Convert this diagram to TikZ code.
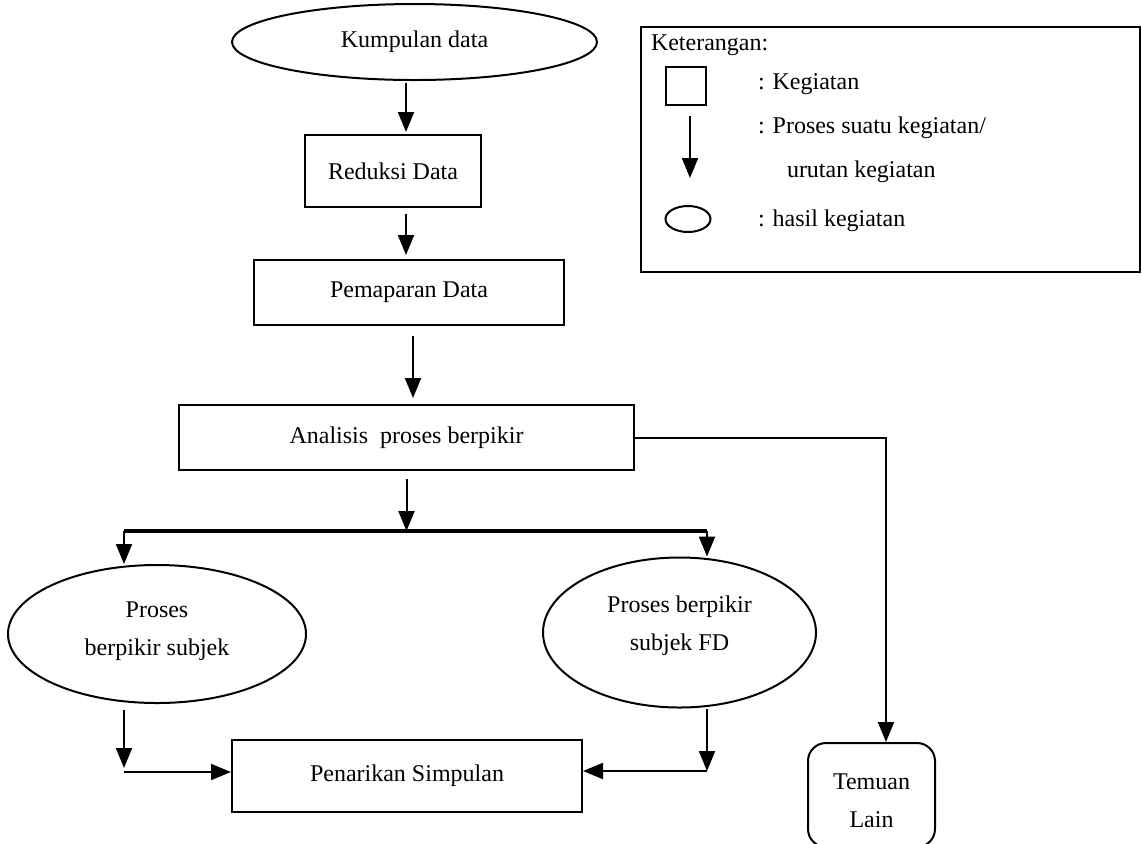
\documentclass[tikz,border=0pt]{standalone}
\usepackage{fontspec}
\setmainfont{Liberation Serif}
\usetikzlibrary{arrows.meta,shapes.geometric}

\begin{document}
\begin{tikzpicture}[x=0.5pt,y=-0.5pt,line width=1pt,
    >={Triangle[width=8pt,length=10pt]}]

        \useasboundingbox (0,0) rectangle (1142,843);

        \begin{scope}[every node/.style={draw,align=center,
            font=\fontsize{12}{19}\selectfont}]
          \node[ellipse,minimum width=182.5pt,minimum height=38pt] (kumpul) at (414.5,42) {Kumpulan data};
          \node[minimum width=88pt,minimum height=36pt] (reduksi) at (393,171) {Reduksi Data};
          \node[minimum width=155pt,minimum height=32.5pt] (paparan) at (409,292.5) {Pemaparan Data};
          \node[minimum width=227.5pt,minimum height=32.5pt] (analisis) at (406.5,437.5) {Analisis\ \ proses berpikir};
          \node[ellipse,minimum width=149pt,minimum height=69pt,text depth=5.5pt] (fi) at (157,634) {Proses\\berpikir subjek};
          \node[ellipse,minimum width=136.5pt,minimum height=75pt,text depth=9pt] (fd) at (679.5,632.5) {Proses berpikir\\subjek FD};
          \node[minimum width=175pt,minimum height=36pt] (simpul) at (407,776) {Penarikan Simpulan};
          \node[rounded corners=9pt,minimum width=63.5pt,minimum height=52pt] (temuan) at (871.5,795) {};
        \end{scope}
        \node[align=center,font=\fontsize{12}{19}\selectfont] (temuanTeks) at (871.5,801) {Temuan\\Lain};

        % keterangan
        \node[draw,minimum width=249.5pt,minimum height=122.5pt] (legend) at (890.5,149.5) {};
        \begin{scope}[every node/.style={anchor=west,inner sep=0pt,
            font=\fontsize{12}{19}\selectfont}]
          \node (ket)   at (650,45)  {Keterangan:};
          \node (ket1)  at (757,84)  {: Kegiatan};
          \node (ket2)  at (757,128) {: Proses suatu kegiatan/};
          \node (ket2b) at (786,172) {urutan kegiatan};
          \node (ket3)  at (757,221) {: hasil kegiatan};
        \end{scope}
        \node[draw,minimum width=20pt,minimum height=19pt] (kotak) at (685.5,86) {};
        \node[draw,ellipse,minimum width=22.5pt,minimum height=13pt] (oval) at (688,219) {};
        \coordinate (panahA) at (690,116);
        \coordinate (panahB) at (690,178);
        \draw[->] (panahA) -- (panahB);

        \coordinate (splitL) at (124,531);
        \coordinate (splitR) at (707,531);
        \coordinate (belok)  at (886,437.5);
        \coordinate (fiOut)  at (124,772);
        \coordinate (fdOut)  at (707,771);

        \draw[->] ([xshift=-4.25pt,yshift=-1pt]kumpul.south) -- ([xshift=6.5pt,yshift=1pt]reduksi.north);
        \draw[->] ([xshift=6.5pt,yshift=-3pt]reduksi.south) -- ([xshift=-1.5pt,yshift=2pt]paparan.north);
        \draw[->] ([xshift=2pt,yshift=-5pt]paparan.south) -- ([xshift=3.25pt,yshift=3pt]analisis.north);
        \draw[->] ([yshift=-4pt]analisis.south) -- (analisis.south |- splitL);
        \draw[line width=2pt] (splitL) -- (splitR);
        \draw[->] (splitL) -- (splitL |- fi.north);
        \draw[->] (splitR) -- (splitR |- fd.north);
        \draw[->] (analisis.east) -- (belok) -- (belok |- temuan.north);
        \draw[->] ([xshift=-16.5pt,yshift=-3pt]fi.south) -- ([yshift=2pt]fiOut);
        \draw[->] (fiOut) -- (simpul.west |- fiOut);
        \draw[->] (fd.south -| fdOut) -- (fdOut);
        \draw[->] (fdOut) -- (simpul.east |- fdOut);

      \end{tikzpicture}
\end{document}
